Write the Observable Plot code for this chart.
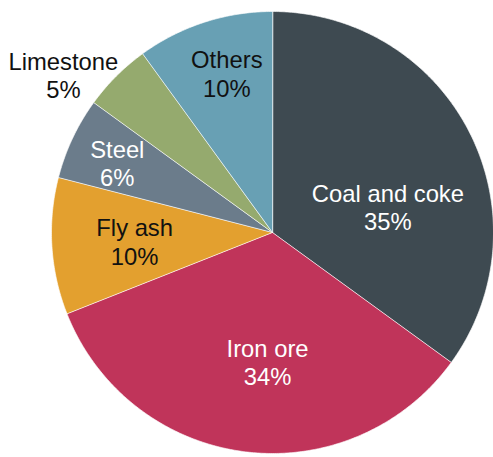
<!DOCTYPE html>
<html>
<head>
<meta charset="utf-8">
<script src="https://cdn.jsdelivr.net/npm/d3@7"></script>
<script src="https://cdn.jsdelivr.net/npm/@observablehq/plot@0.6"></script>
<style>
  html, body { margin: 0; padding: 0; background: #fff; }
  #chart svg { display: block; }
</style>
</head>
<body>
<div id="chart"></div>
<script>
// Data
const categories = ["Coal and coke", "Iron ore", "Fly ash", "Steel", "Limestone", "Others"];
const shares = [35, 34, 10, 6, 5, 10];
const colors = ["#3e4a51", "#c0345a", "#e3a02f", "#6b7c8b", "#95aa6e", "#68a0b4"];
const labelColors = ["#ffffff", "#ffffff", "#111111", "#ffffff", "#111111", "#111111"];
// label placement (fraction of radius, angle nudge in degrees)
const labelRadius = [0.535, 0.585, 0.625, 0.77, 1.185, 0.75];
const labelAngleNudge = [14.5, -5, 0, -1, -8, 2];

const pie = d3.pie().sort(null).value(d => d)(shares);
const toXY = (a, r) => [r * Math.sin(a), -r * Math.cos(a)];

const slices = pie.map((p, i) => {
  const ring = [[0, 0]];
  const n = Math.max(2, Math.ceil((p.endAngle - p.startAngle) / (Math.PI / 360)));
  for (let k = 0; k <= n; k++) {
    const a = p.startAngle + (p.endAngle - p.startAngle) * k / n;
    ring.push(toXY(a, 1));
  }
  ring.push([0, 0]);
  return {type: "Feature", properties: {name: categories[i]}, geometry: {type: "Polygon", coordinates: [ring]}};
});

const labels = pie.map((p, i) => {
  const mid = (p.startAngle + p.endAngle) / 2 + labelAngleNudge[i] * Math.PI / 180;
  const [x, y] = toXY(mid, labelRadius[i]);
  return {x, y, text: `${categories[i]}\n${shares[i]}%`, color: labelColors[i]};
});

const chart = Plot.plot({
  width: 493,
  height: 457,
  marginLeft: 51,
  marginRight: 0,
  marginTop: 11,
  marginBottom: 4,
  projection: {type: "identity", domain: {type: "MultiPoint", coordinates: [[-1, -1], [1, 1]]}},
  color: {domain: categories, range: colors},
  style: {fontFamily: "'Liberation Sans', Arial, sans-serif", background: "#fff"},
  marks: [
    Plot.geo(slices, {fill: d => d.properties.name, stroke: "#ffffff", strokeWidth: 0.8, strokeOpacity: 0.8}),
    Plot.text(labels, {x: "x", y: "y", text: "text", fill: "color", fontSize: 23.8, lineHeight: 1.2})
  ]
});
document.getElementById("chart").appendChild(chart);
</script>
</body>
</html>
